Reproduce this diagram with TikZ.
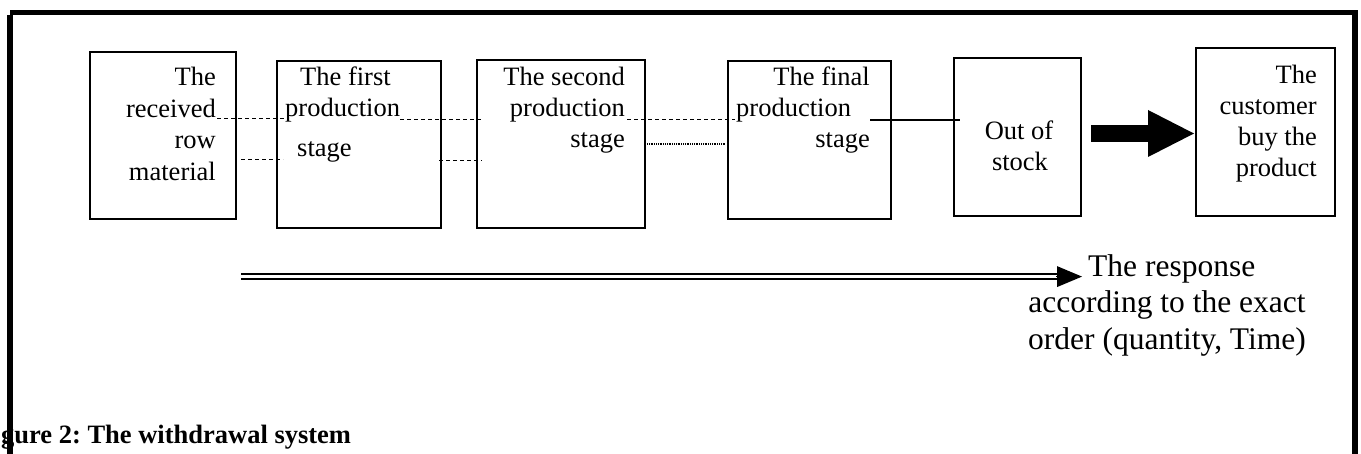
\documentclass[tikz,border=0pt]{standalone}
\usepackage{fontspec}
\setmainfont{Liberation Serif}
\usetikzlibrary{arrows.meta}
\frenchspacing
\begin{document}
\begin{tikzpicture}[x=1pt,y=-1pt,
  box/.style={draw, line width=2pt, inner sep=0pt, outer sep=0pt},
  txt/.style={inner sep=0pt, font=\fontsize{26.5}{31.5}\selectfont},
  resp/.style={inner sep=0pt, font=\fontsize{31.5}{36.5}\selectfont},
  dsh/.style={line width=1pt, dash pattern=on 4pt off 3pt},
  dts/.style={line width=1.3pt, dash pattern=on 1pt off 0.8pt},
  framest/.style={line width=5.5pt},
  dblline/.style={line width=2pt, double distance=3.3pt},
]
\useasboundingbox (0,0) rectangle (1361,454);

% boxes
\node[box, minimum width=146pt, minimum height=167pt] (b1) at (163,135.5) {};
\node[box, minimum width=164pt, minimum height=167pt] (b2) at (359,144.5) {};
\node[box, minimum width=168pt, minimum height=168pt] (b3) at (561,144) {};
\node[box, minimum width=163pt, minimum height=158pt] (b4) at (809.5,140) {};
\node[box, minimum width=127pt, minimum height=158pt] (b5) at (1017.5,137) {};
\node[box, minimum width=139pt, minimum height=168pt] (b6) at (1265.5,132) {};

% box 1 text
\node[txt, anchor=base east] (b1l1) at (216,86) {The};
\node[txt, anchor=base east] (b1l2) at (216,117.5) {received};
\node[txt, anchor=base east] (b1l3) at (216,149) {row};
\node[txt, anchor=base east] (b1l4) at (216,180.5) {material};
% box 2 text
\node[txt, anchor=base west] (b2l1) at (300,86) {The first};
\node[txt, anchor=base west] (b2l2) at (285,117) {production};
\node[txt, anchor=base west] (b2l3) at (297,157) {stage};
% box 3 text
\node[txt, anchor=base east] (b3l1) at (625,86) {The second};
\node[txt, anchor=base east] (b3l2) at (625,117) {production};
\node[txt, anchor=base east] (b3l3) at (625,148) {stage};
% box 4 text
\node[txt, anchor=base east] (b4l1) at (870,86) {The final};
\node[txt, anchor=base west] (b4l2) at (736,117) {production};
\node[txt, anchor=base east] (b4l3) at (870,148) {stage};
% box 5 text
\node[txt, anchor=base] (b5l1) at (1019,140) {Out of};
\node[txt, anchor=base] (b5l2) at (1020,171) {stock};
% box 6 text
\node[txt, anchor=base east] (b6l1) at (1317,83.5) {The};
\node[txt, anchor=base east] (b6l2) at (1317,114.5) {customer};
\node[txt, anchor=base east] (b6l3) at (1317,145.5) {buy the};
\node[txt, anchor=base east] (b6l4) at (1317,176.5) {product};

% dashed / dotted links
\coordinate (d1a) at (217,119);  \coordinate (d1b) at (285,119);
\coordinate (d2a) at (400,119.5);  \coordinate (d2b) at (482,119.5);
\coordinate (d3a) at (627,120);  \coordinate (d3b) at (735,120);
\coordinate (e1a) at (241,160);  \coordinate (e1b) at (283,160);
\coordinate (e2a) at (439,160.5);  \coordinate (e2b) at (482,160.5);
\coordinate (f1a) at (647,144);  \coordinate (f1b) at (726,144);
\coordinate (s1a) at (870,120);  \coordinate (s1b) at (960,120);
\draw[dsh] (d1a) -- (d1b);
\draw[dsh] (d2a) -- (d2b);
\draw[dsh] (d3a) -- (d3b);
\draw[dsh] (e1a) -- (e1b);
\draw[dsh] (e2a) -- (e2b);
\draw[dts] (f1a) -- (f1b);
\draw[line width=1.3pt] (s1a) -- (s1b);

% big arrow
\coordinate (ba) at (1091,133.5);
\draw[line width=17pt, -{Triangle[length=46pt, width=47pt, line width=0pt]}] (ba) -- ([xshift=-2pt]ba -| b6.west);

% response text
\node[resp, anchor=base west] (r1) at (1088,277) {The response};
\node[resp, anchor=base] (r2) at (1167,313) {according to the exact};
\node[resp, anchor=base] (r3) at (1167,350) {order (quantity, Time)};

% double arrow
\coordinate (rs) at (241,276.6);
\coordinate (re) at (1060,276.6);
\coordinate (rt) at (1082,276.6);
\draw[dblline] (rs) -- (re);
\draw[line width=0.5pt, -{Triangle[length=25pt, width=21pt, line width=0pt]}] ([xshift=-4pt]re) -- (rt);

% caption
\node[inner sep=0pt, anchor=base west, font=\fontsize{26.5}{30}\selectfont\bfseries] (cap) at (1,443) {gure 2: The withdrawal system};

% frame
\coordinate (ftl) at (10,12.5); \coordinate (ftr) at (1358,12.5);
\coordinate (fl1) at (10,15); \coordinate (fl2) at (10,454);
\coordinate (fr1) at (1355,15); \coordinate (fr2) at (1355,454);
\draw[framest] (ftl) -- (ftr);
\draw[framest, line width=6pt] (fl1) -- (fl2);
\draw[framest, line width=6pt] (fr1) -- (fr2);
\end{tikzpicture}
\end{document}
